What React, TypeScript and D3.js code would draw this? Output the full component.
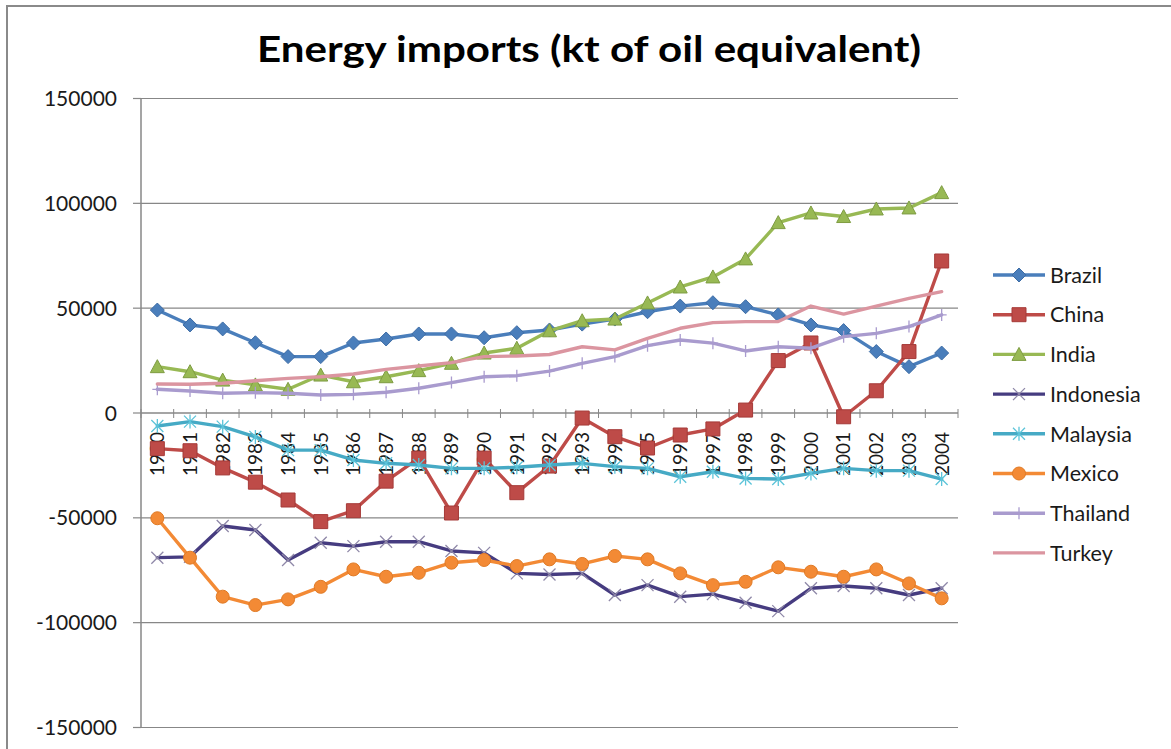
import React from "react";
import * as d3 from "d3";

const years = ["1980","1981","1982","1983","1984","1985","1986","1987","1988","1989","1990","1991","1992","1993","1994","1995","1996","1997","1998","1999","2000","2001","2002","2003","2004"];
const brazil = [49100,42000,40100,33500,26900,26900,33400,35300,37700,37700,35900,38300,39600,42400,44800,48300,51000,52600,50700,46800,42000,39300,29300,22100,28600];
const china = [-17000,-18000,-26200,-33000,-41500,-51800,-46600,-32500,-21500,-47700,-21500,-38000,-25300,-2400,-11300,-16700,-10500,-7600,1400,25000,33400,-1800,10600,29300,72500];
const india = [22100,19700,15700,13400,11300,18100,14900,17300,20200,23700,28600,30900,39200,44000,44800,52500,60100,64900,73500,90800,95400,93700,97300,97800,105100];
const indonesia = [-69000,-68600,-53900,-55800,-70100,-61900,-63500,-61400,-61400,-65800,-66700,-76500,-77000,-76500,-86800,-82100,-87600,-86400,-90500,-94500,-83600,-82500,-83600,-86800,-83600];
const malaysia = [-6200,-4100,-6500,-11400,-17700,-17700,-22400,-24000,-24800,-26400,-26400,-25900,-24800,-24000,-25600,-26400,-30400,-28000,-31200,-31500,-28800,-26400,-27500,-27500,-31500];
const mexico = [-50200,-69000,-87600,-91600,-88900,-82900,-74600,-78100,-76200,-71400,-70100,-73000,-69800,-72000,-68200,-69800,-76500,-82100,-80500,-73600,-75700,-78100,-74600,-81300,-88400];
const thailand = [11300,10500,9400,9700,9400,8600,8900,9900,11800,14500,17300,17800,20000,23700,26900,32100,34800,33300,29600,31600,30900,36400,38000,41200,46800];
const turkey = [13800,13700,14200,15400,16500,17300,18600,20800,22400,24000,26900,27200,27900,31600,30100,35600,40400,43100,43600,43600,51000,47200,51000,54700,57900];

const seriesNames = ["Brazil","China","India","Indonesia","Malaysia","Mexico","Thailand","Turkey"];
const seriesValues = [brazil, china, india, indonesia, malaysia, mexico, thailand, turkey];
const lineColors = ["#4A7EBB","#BE4B48","#98B954","#463C80","#46AAC5","#F38A35","#A99BCE","#DB95A0"];
const markerFill = ["#4A7EBB","#BE4B48","#98B954","none","none","#F38A35","none","none"];
const markerStroke = ["#3D6CA5","#A53A38","#7E9C42","#8F88A8","#5CC4D9","#E07A25","#A99BCE","none"];
const markerTypes = ["diamond","square","triangle","x","star","circle","plus","none"];
const yTicks = [150000,100000,50000,0,-50000,-100000,-150000];
const title = "Energy imports (kt of oil equivalent)";

const FONT = "Lato, 'Open Sans', sans-serif";

function markerPath(type: string): string {
  const s = 7;
  switch (type) {
    case "diamond": return `M0,${-s}L${s},0L0,${s}L${-s},0Z`;
    case "square": return `M${-s},${-s}H${s}V${s}H${-s}Z`;
    case "triangle": return `M0,${-s}L${s},${s - 1}L${-s},${s - 1}Z`;
    case "circle": return d3.symbol(d3.symbolCircle, Math.PI * 6.5 * 6.5)() || "";
    case "x": return `M-6,-6L6,6M-6,6L6,-6`;
    case "star": return `M-6,-6L6,6M-6,6L6,-6M0,-7V7`;
    case "plus": return `M0,-6V6M-5,0H5`;
    default: return "";
  }
}

export default function App() {
  const W = 1171, H = 749;
  const left = 141, right = 958, top = 98.5, bottom = 727.5;
  const x = d3.scaleBand<string>().domain(years).range([left, right]).padding(0);
  const y = d3.scaleLinear().domain([-150000, 150000]).range([bottom, top]);
  const bw = x.bandwidth();
  const cx = (yr: string) => (x(yr) as number) + bw / 2;
  const y0 = y(0);

  const line = d3.line<number>().x((_, i) => cx(years[i])).y((v) => y(v));

  const legendX0 = 993, legendX1 = 1045, legendY0 = 275, legendStep = 39.7;

  return (
    <svg width={W} height={H} style={{ position: "absolute", left: 0, top: 0, background: "#fff" }} fontFamily={FONT}>
      <rect x={0} y={0} width={W} height={H} fill="#fff" />
      <rect x={7} y={6} width={W + 20} height={H + 20} fill="#fff" stroke="#8a8a8a" strokeWidth={2} />
      <text x={589} y={62} textAnchor="middle" fontWeight="bold" fontSize={36} textLength={664} lengthAdjust="spacingAndGlyphs" fill="#000">{title}</text>

      {yTicks.map((t) => (
        <g key={t}>
          <line x1={left} x2={right} y1={y(t)} y2={y(t)} stroke="#878787" strokeWidth={1.2} />
          <line x1={133} x2={left} y1={y(t)} y2={y(t)} stroke="#878787" strokeWidth={1.2} />
          <text x={117} y={y(t)} dy="0.36em" textAnchor="end" fontSize={21} fill="#1a1a1a">{t}</text>
        </g>
      ))}
      <line x1={left} x2={left} y1={top} y2={bottom} stroke="#878787" strokeWidth={1.5} />

      <line x1={left} x2={right} y1={y0} y2={y0} stroke="#878787" strokeWidth={1.2} />
      {years.map((yr) => (
        <line key={"t" + yr} x1={(x(yr) as number)} x2={(x(yr) as number)} y1={y0 - 4} y2={y0 + 5} stroke="#878787" strokeWidth={1} />
      ))}
      <line x1={right} x2={right} y1={y0 - 4} y2={y0 + 5} stroke="#878787" strokeWidth={1} />
      {years.map((yr) => (
        <text key={"l" + yr} transform={`translate(${cx(yr)},432) rotate(-90)`} dy="0.36em" textAnchor="end" fontSize={19} fill="#1a1a1a">{yr}</text>
      ))}

      {seriesValues.map((vals, si) => (
        <g key={seriesNames[si]}>
          <path d={line(vals) || ""} fill="none" stroke={lineColors[si]} strokeWidth={3.4} strokeLinejoin="round" strokeLinecap="round" />
          {markerTypes[si] !== "none" && vals.map((v, i) => (
            <path key={i} transform={`translate(${cx(years[i])},${y(v)})`} d={markerPath(markerTypes[si])}
              fill={markerFill[si]} stroke={markerStroke[si]} strokeWidth={markerFill[si] === "none" ? 1.3 : 1} />
          ))}
        </g>
      ))}

      {seriesNames.map((n, si) => {
        const ly = legendY0 + si * legendStep;
        return (
          <g key={"lg" + n}>
            <line x1={legendX0} x2={legendX1} y1={ly} y2={ly} stroke={lineColors[si]} strokeWidth={3.4} />
            {markerTypes[si] !== "none" && (
              <path transform={`translate(${(legendX0 + legendX1) / 2},${ly})`} d={markerPath(markerTypes[si])}
                fill={markerFill[si]} stroke={markerStroke[si]} strokeWidth={markerFill[si] === "none" ? 1.3 : 1} />
            )}
            <text x={1050} y={ly} dy="0.36em" fontSize={21.5} fill="#1a1a1a">{n}</text>
          </g>
        );
      })}
    </svg>
  );
}
